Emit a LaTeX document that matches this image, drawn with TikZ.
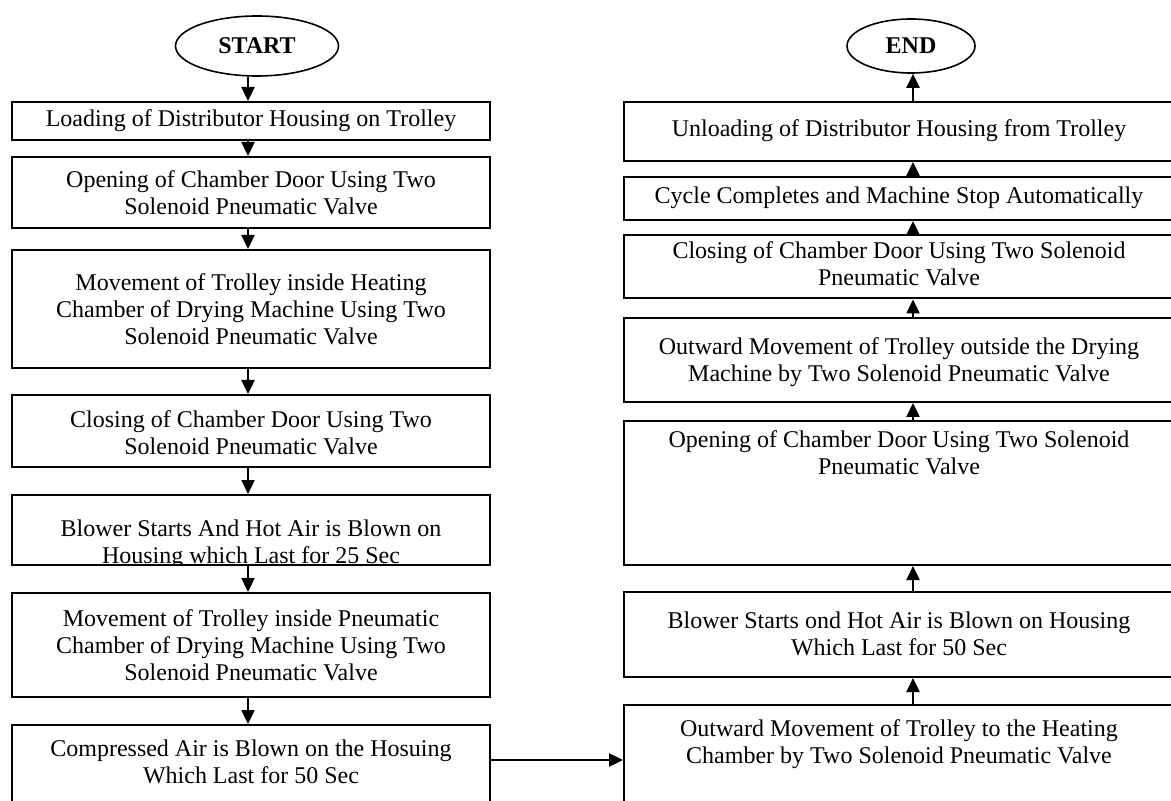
\documentclass[tikz,border=0pt]{standalone}
\usepackage{fontspec}
\setmainfont{Liberation Serif}
\usetikzlibrary{shapes.geometric,arrows.meta}
\begin{document}
\begin{tikzpicture}[x=0.5pt,y=-0.5pt,
  box/.style={draw,line width=1pt,rectangle,inner sep=0pt},
  lbox/.style={box,minimum width=239pt},
  rbox/.style={box,minimum width=275pt},
  txt/.style={inner sep=0pt,align=center,font=\fontsize{12}{13.5}\selectfont},
  term/.style={draw,line width=0.8pt,ellipse,inner sep=0pt,font=\fontsize{12}{14}\selectfont\bfseries},
  arr/.style={line width=1.2pt,-{Triangle[width=6.5pt,length=7pt]}}]
\useasboundingbox (0,0) rectangle (1171,801);
\clip (0,0) rectangle (1171,801);
% arrow columns
\coordinate (lc) at (248,0);
\coordinate (rc) at (913,0);
% terminals
\node[term,minimum width=81.5pt,minimum height=30pt] (start) at (257,46) {START};
\node[term,minimum width=64pt,minimum height=27pt] (endn) at (911,46) {END};
% left texts
\node[txt] (t1) at (251,121) {Loading of Distributor Housing on Trolley};
\node[txt] (t2) at (251,193) {Opening of Chamber Door Using Two\\Solenoid Pneumatic Valve};
\node[txt] (t3) at (251,309) {Movement of Trolley inside Heating\\Chamber of Drying Machine Using Two\\Solenoid Pneumatic Valve};
\node[txt] (t4) at (251,433) {Closing of Chamber Door Using Two\\Solenoid Pneumatic Valve};
\node[txt] (t5) at (251,544) {Blower Starts And Hot Air is Blown on\\Housing which Last for 25 Sec};
\node[txt] (t6) at (251,645) {Movement of Trolley inside Pneumatic\\Chamber of Drying Machine Using Two\\Solenoid Pneumatic Valve};
\node[txt] (t7) at (251,762) {Compressed Air is Blown on the Hosuing\\Which Last for 50 Sec};
% right texts
\node[txt] (u1) at (899,131) {Unloading of Distributor Housing from Trolley};
\node[txt] (u2) at (899,198) {Cycle Completes and Machine Stop Automatically};
\node[txt] (u3) at (899,264) {Closing of Chamber Door Using Two Solenoid\\Pneumatic Valve};
\node[txt] (u4) at (899,362) {Outward Movement of Trolley outside the Drying\\Machine by Two Solenoid Pneumatic Valve};
\node[txt] (u5) at (899,453) {Opening of Chamber Door Using Two Solenoid\\Pneumatic Valve};
\node[txt] (u6) at (899,634) {Blower Starts ond Hot Air is Blown on Housing\\Which Last for 50 Sec};
\node[txt] (u7) at (899,744) {Outward Movement of Trolley to the Heating\\Chamber by Two Solenoid Pneumatic Valve};
% mask of the clipped descenders under box 5
\fill[white] (14,566) rectangle (488,586);
% left boxes
\node[lbox,minimum height=19pt] (b1) at (251,121) {};
\node[lbox,minimum height=35.5pt] (b2) at (251,192.5) {};
\node[lbox,minimum height=59pt] (b3) at (251,309) {};
\node[lbox,minimum height=36pt] (b4) at (251,431) {};
\node[lbox,minimum height=35pt] (b5) at (251,530) {};
\node[lbox,minimum height=52pt] (b6) at (251,645) {};
\node[lbox,minimum height=45pt] (b7) at (251,770) {};
% right boxes
\node[rbox,minimum height=29.5pt] (r1) at (899,131.5) {};
\node[rbox,minimum height=21.5pt] (r2) at (899,198.5) {};
\node[rbox,minimum height=31.5pt] (r3) at (899,267) {};
\node[rbox,minimum height=42pt] (r4) at (899,360) {};
\node[rbox,minimum height=72pt] (r5) at (899,493) {};
\node[rbox,minimum height=42.5pt] (r6) at (899,634.5) {};
\node[rbox,minimum height=55pt] (r7) at (899,760) {};
% connectors
\draw[arr] (start.south -| lc) -- (b1.north -| lc);
\draw[arr] (b1.south -| lc) -- (b2.north -| lc);
\draw[arr] (b2.south -| lc) -- (b3.north -| lc);
\draw[arr] (b3.south -| lc) -- (b4.north -| lc);
\draw[arr] (b4.south -| lc) -- (b5.north -| lc);
\draw[arr] (b5.south -| lc) -- (b6.north -| lc);
\draw[arr] (b6.south -| lc) -- (b7.north -| lc);
\draw[arr] (b7.east |- r7.west) -- (r7.west);
\draw[arr] (r7.north -| rc) -- (r6.south -| rc);
\draw[arr] (r6.north -| rc) -- (r5.south -| rc);
\draw[arr] (r5.north -| rc) -- (r4.south -| rc);
\draw[arr] (r4.north -| rc) -- (r3.south -| rc);
\draw[arr] (r3.north -| rc) -- (r2.south -| rc);
\draw[arr] (r2.north -| rc) -- (r1.south -| rc);
\draw[arr] (r1.north -| rc) -- (endn.south -| rc);
\end{tikzpicture}
\end{document}
